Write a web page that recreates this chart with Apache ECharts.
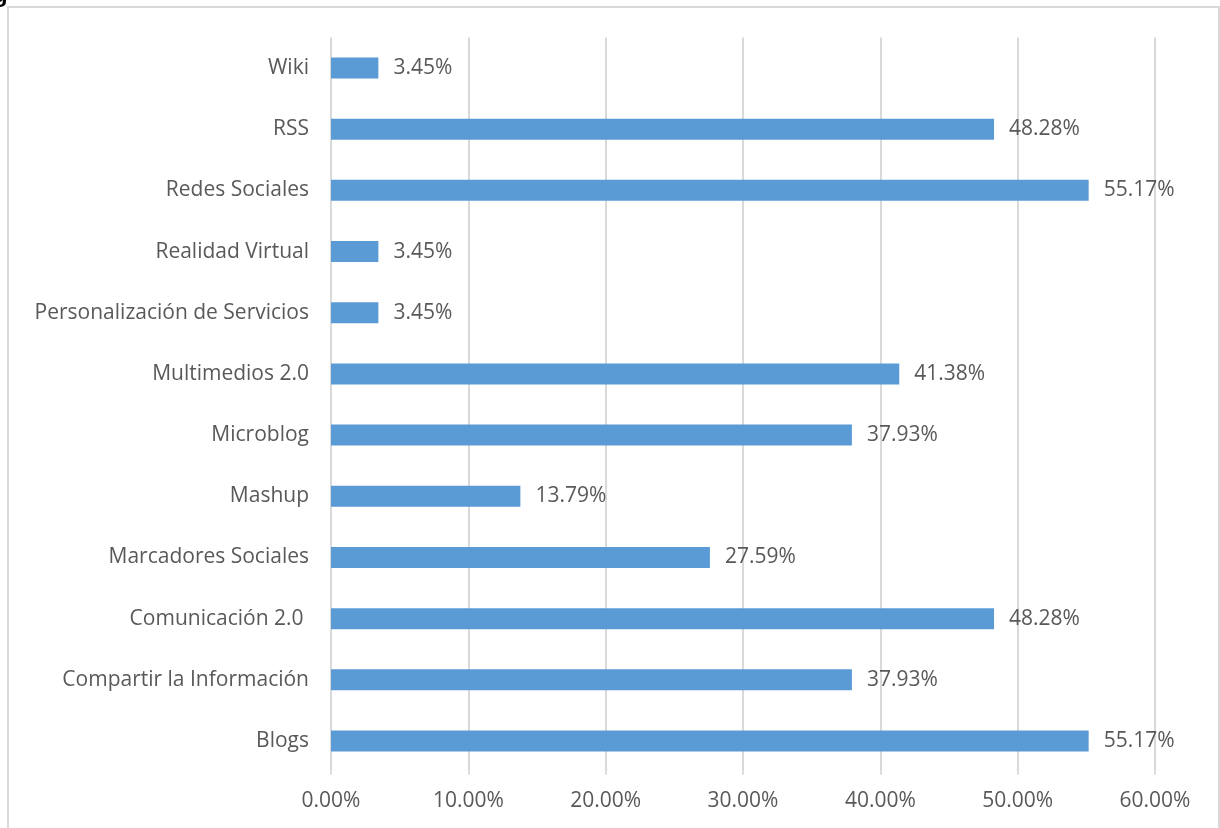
<!DOCTYPE html>
<html><head><meta charset="utf-8">
<script src="https://cdn.jsdelivr.net/npm/echarts@6/dist/echarts.min.js"></script>
<style>html,body{margin:0;padding:0;background:#fff}#c{width:1220px;height:828px}</style>
</head><body><div id="c"></div>
<script>
const categories = ['Blogs','Compartir la Información','Comunicación 2.0 ','Marcadores Sociales','Mashup','Microblog','Multimedios 2.0','Personalización de Servicios','Realidad Virtual','Redes Sociales','RSS','Wiki'];
const values = [55.17,37.93,48.28,27.59,13.79,37.93,41.38,3.45,3.45,55.17,48.28,3.45];
const xMin = 0, xMax = 60, xStep = 10;
const font = 'Open Sans';
const chart = echarts.init(document.getElementById('c'), null, {renderer:'canvas'});
chart.setOption({
  animation:false,
  backgroundColor:'#fff',
  graphic:[
    {type:'rect', shape:{x:8,y:7,width:1211,height:840}, style:{fill:'none', stroke:'#d9d9d9', lineWidth:2}},
    {type:'text', left:-7, top:-17, style:{text:'g', fill:'#000', font:'bold 24px Liberation Sans'}}
  ],
  grid:{left:331, right:65, top:37.4, bottom:56.4, containLabel:false},
  xAxis:{type:'value', min:xMin, max:xMax, interval:xStep,
    axisLine:{show:false},
    axisTick:{show:true, length:3, lineStyle:{color:'#d9d9d9', width:2}},
    splitLine:{show:true, lineStyle:{color:'#d9d9d9', width:2}},
    axisLabel:{formatter:v=>v.toFixed(2)+'%', color:'#595959', fontSize:21, fontFamily:font, margin:19}
  },
  yAxis:{type:'category', data:categories,
    axisLine:{show:false}, axisTick:{show:false},
    axisLabel:{color:'#595959', fontSize:21, fontFamily:font, margin:22}
  },
  series:[{type:'bar', data:values, barWidth:21, itemStyle:{color:'#5b9bd5'},
    label:{show:true, position:'right', distance:15, formatter:p=>p.value.toFixed(2)+'%', color:'#595959', fontSize:21, fontFamily:font}
  }]
});
</script></body></html>
